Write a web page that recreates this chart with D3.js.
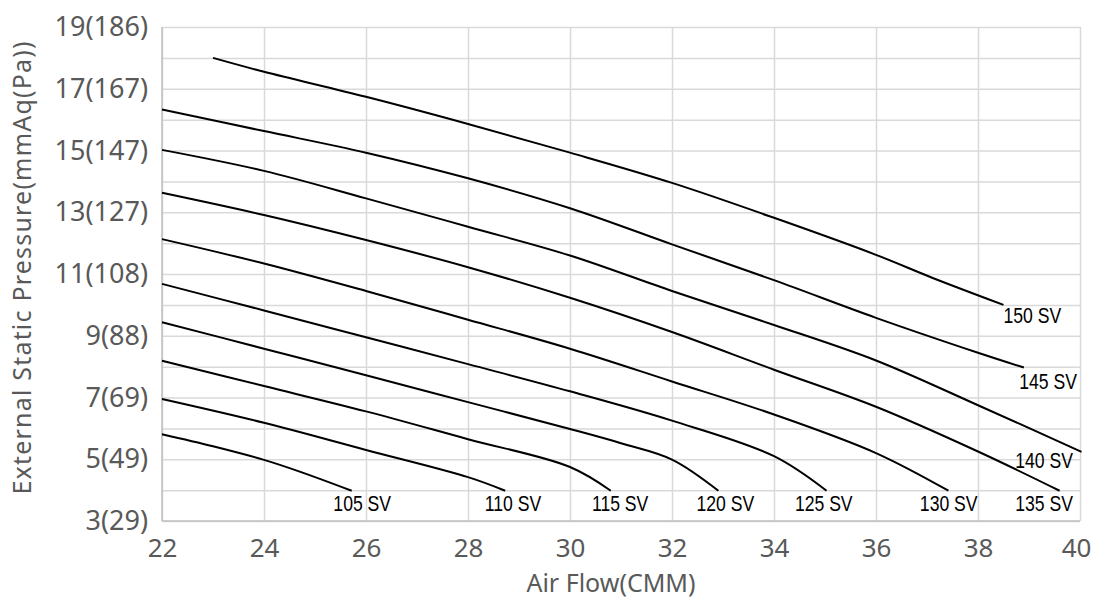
<!DOCTYPE html>
<html><head><meta charset="utf-8">
<script src="https://cdn.jsdelivr.net/npm/d3@7/dist/d3.min.js"></script>
<style>
html,body{margin:0;padding:0;background:#fff;}
svg{display:block;}
</style></head>
<body><svg id="chart" width="1094" height="600"></svg>
<script>
// ---- data ----
const xTicks = [22,24,26,28,30,32,34,36,38,40];
const yTicks = [3,5,7,9,11,13,15,17,19];
const yTickLabels = ["3(29)","5(49)","7(69)","9(88)","11(108)","13(127)","15(147)","17(167)","19(186)"];
const seriesNames = ["105 SV","110 SV","115 SV","120 SV","125 SV","130 SV","135 SV","140 SV","145 SV","150 SV"];
const s105 = [[22,5.81],[23,5.42],[24,4.98],[24.7,4.6],[25.72,3.98]];
const s110 = [[22,6.95],[24,6.18],[26,5.3],[28,4.42],[28.73,3.98]];
const s115 = [[22,8.19],[24,7.37],[26,6.55],[28,5.65],[30,4.75],[30.8,3.98]];
const s120 = [[22,9.44],[24,8.58],[26,7.72],[28,6.85],[30,5.98],[31,5.52],[32,4.99],[32.91,3.98]];
const s125 = [[22,10.68],[24,9.82],[26,8.95],[28,8.08],[30,7.2],[32,6.25],[34,5.1],[35.03,3.98]];
const s130 = [[22,12.13],[24,11.34],[26,10.45],[28,9.52],[30,8.58],[32,7.52],[34,6.45],[36,5.2],[37.42,3.98]];
const s135 = [[22,13.63],[24,12.91],[26,12.1],[28,11.22],[30,10.23],[32,9.12],[34,7.9],[36,6.7],[38,5.25],[39.6,3.98]];
const s140 = [[22,15.02],[24,14.34],[26,13.45],[28,12.53],[30,11.6],[32,10.45],[34,9.35],[36,8.2],[38,6.75],[40.03,5.24]];
const s145 = [[22,16.33],[24,15.63],[26,14.93],[28,14.1],[30,13.13],[32,11.96],[34,10.8],[36,9.58],[38,8.45],[38.9,7.97]];
const s150 = [[23,18.0],[24,17.55],[26,16.74],[28,15.86],[30,14.93],[32,13.95],[34,12.82],[36,11.62],[37.1,10.88],[38.5,10.0]];
const seriesValues = [s105,s110,s115,s120,s125,s130,s135,s140,s145,s150];
// label anchors (data units: left x, baseline y)
const labelX = [25.36,28.33,30.43,32.48,34.41,36.86,38.73,38.73,38.81,38.5];
const labelY = [3.33,3.33,3.33,3.33,3.33,3.33,3.33,4.71,7.27,9.42];
const xTitle = "Air Flow(CMM)";
const yTitle = "External Static Pressure(mmAq(Pa))";

// ---- chart ----
const svg = d3.select("#chart");
const L = 162, R = 1080, T = 27, B = 521;
const x = d3.scaleLinear().domain([22,40]).range([L,R]);
const y = d3.scaleLinear().domain([3,19]).range([B,T]);
const gridColor = "#d9d9d9";
const textColor = "#595959";
const axisFont = "'Noto Sans', 'Open Sans', sans-serif";

// horizontal gridlines every 1
svg.append("g").attr("transform",`translate(${L},0)`)
  .call(d3.axisLeft(y).tickValues(d3.range(3,20,1)).tickSize(-(R-L)).tickFormat(""))
  .call(g=>g.select(".domain").remove())
  .call(g=>g.selectAll("line").attr("stroke",gridColor).attr("stroke-width",1.5));
// vertical gridlines every 2
svg.append("g").attr("transform",`translate(0,${B})`)
  .call(d3.axisBottom(x).tickValues(xTicks).tickSize(-(B-T)).tickFormat(""))
  .call(g=>g.select(".domain").remove())
  .call(g=>g.selectAll("line").attr("stroke",gridColor).attr("stroke-width",1.5));
svg.append("line").attr("x1",L).attr("x2",R).attr("y1",B).attr("y2",B)
  .attr("stroke","#bfbfbf").attr("stroke-width",1.5);
svg.append("line").attr("x1",L).attr("x2",L).attr("y1",T).attr("y2",B)
  .attr("stroke","#bfbfbf").attr("stroke-width",1.5);

// tick labels
svg.append("g").attr("transform",`translate(${L},0)`)
  .call(d3.axisLeft(y).tickValues(yTicks).tickSize(0).tickPadding(14)
    .tickFormat((d,i)=>yTickLabels[i]))
  .call(g=>g.select(".domain").remove())
  .call(g=>g.selectAll("text").attr("fill",textColor)
     .style("font-family",axisFont).style("font-size","27px"));
svg.append("g").attr("transform",`translate(0,${B})`)
  .call(d3.axisBottom(x).tickValues(xTicks).tickSize(0).tickPadding(18).tickFormat(d=>d))
  .call(g=>g.select(".domain").remove())
  .call(g=>g.selectAll("text").attr("fill",textColor)
     .style("font-family",axisFont).style("font-size","26px")
     .attr("dx",(d,i,n)=> i===n.length-1 ? -4 : 0));

// titles
svg.append("text").attr("x",611).attr("y",592).attr("text-anchor","middle")
  .attr("fill",textColor).style("font-family",axisFont).style("font-size","25px")
  .text(xTitle);
svg.append("text").attr("transform",`translate(31,268) rotate(-90)`).attr("text-anchor","middle")
  .attr("fill",textColor).style("font-family",axisFont).style("font-size","25px")
  .attr("textLength",453).attr("lengthAdjust","spacing")
  .text(yTitle);

// curves
const line = d3.line().x(d=>x(d[0])).y(d=>y(d[1])).curve(d3.curveCatmullRom.alpha(0.5));
svg.append("g").selectAll("path").data(seriesValues).join("path")
  .attr("d",line).attr("fill","none").attr("stroke","#000").attr("stroke-width",2);

// curve labels (narrow Arial look)
svg.append("g").selectAll("text").data(seriesNames).join("text")
  .attr("transform",(d,i)=>`translate(${x(labelX[i])},${y(labelY[i])}) scale(0.8,1)`)
  .attr("fill","#000")
  .style("font-family","'Liberation Sans', Arial, sans-serif").style("font-size","22px")
  .text(d=>d);
</script></body></html>
